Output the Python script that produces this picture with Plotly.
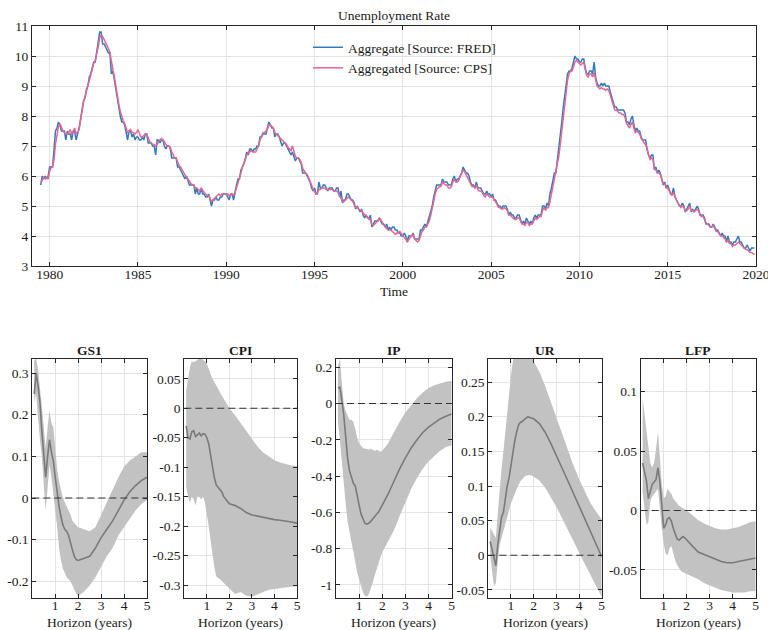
import pandas as pd
import plotly.graph_objects as go

# ---------------- Unemployment rate, monthly, Jul 1979 - Dec 2019 ----------------
start_month = "1979-07-01"

fred_rate = [
    5.7, 6.0, 5.9, 6.0, 5.9, 6.0,
    6.3, 6.3, 6.3, 6.9, 7.5, 7.6, 7.8, 7.7, 7.5, 7.5, 7.5, 7.2,
    7.5, 7.4, 7.4, 7.2, 7.5, 7.5, 7.2, 7.4, 7.6, 7.9, 8.3, 8.5,
    8.6, 8.9, 9.0, 9.3, 9.4, 9.6, 9.8, 9.8, 10.1, 10.4, 10.8, 10.8,
    10.4, 10.4, 10.3, 10.2, 10.1, 10.1, 9.4, 9.5, 9.2, 8.8, 8.5, 8.3,
    8.0, 7.8, 7.8, 7.7, 7.4, 7.2, 7.5, 7.5, 7.3, 7.4, 7.2, 7.3,
    7.3, 7.2, 7.2, 7.3, 7.2, 7.4, 7.4, 7.1, 7.1, 7.1, 7.0, 7.0,
    6.7, 7.2, 7.2, 7.1, 7.2, 7.2, 7.0, 6.9, 7.0, 7.0, 6.9, 6.6,
    6.6, 6.6, 6.6, 6.3, 6.3, 6.2, 6.1, 6.0, 5.9, 6.0, 5.8, 5.7,
    5.7, 5.7, 5.7, 5.4, 5.6, 5.4, 5.4, 5.6, 5.4, 5.4, 5.3, 5.3,
    5.4, 5.2, 5.0, 5.2, 5.2, 5.3, 5.2, 5.2, 5.3, 5.3, 5.4, 5.4,
    5.4, 5.3, 5.2, 5.4, 5.4, 5.2, 5.5, 5.7, 5.9, 5.9, 6.2, 6.3,
    6.4, 6.6, 6.8, 6.7, 6.9, 6.9, 6.8, 6.9, 6.9, 7.0, 7.0, 7.3,
    7.3, 7.4, 7.4, 7.4, 7.6, 7.8, 7.7, 7.6, 7.6, 7.3, 7.4, 7.4,
    7.3, 7.1, 7.0, 7.1, 7.1, 7.0, 6.9, 6.8, 6.7, 6.8, 6.6, 6.5,
    6.6, 6.6, 6.5, 6.4, 6.1, 6.1, 6.1, 6.0, 5.9, 5.8, 5.6, 5.5,
    5.6, 5.4, 5.4, 5.8, 5.6, 5.6, 5.7, 5.7, 5.6, 5.5, 5.6, 5.6,
    5.6, 5.5, 5.5, 5.6, 5.6, 5.3, 5.5, 5.1, 5.2, 5.2, 5.4, 5.4,
    5.3, 5.2, 5.2, 5.1, 4.9, 5.0, 4.9, 4.8, 4.9, 4.7, 4.6, 4.7,
    4.6, 4.6, 4.7, 4.3, 4.4, 4.5, 4.5, 4.5, 4.6, 4.5, 4.4, 4.4,
    4.3, 4.4, 4.2, 4.3, 4.2, 4.3, 4.3, 4.2, 4.2, 4.1, 4.1, 4.0,
    4.0, 4.1, 4.0, 3.8, 4.0, 4.0, 4.0, 4.1, 3.9, 3.9, 3.9, 3.9,
    4.2, 4.2, 4.3, 4.4, 4.3, 4.5, 4.6, 4.9, 5.0, 5.3, 5.5, 5.7,
    5.7, 5.7, 5.7, 5.9, 5.8, 5.8, 5.8, 5.7, 5.7, 5.7, 5.9, 6.0,
    5.8, 5.9, 5.9, 6.0, 6.1, 6.3, 6.2, 6.1, 6.1, 6.0, 5.8, 5.7,
    5.7, 5.6, 5.8, 5.6, 5.6, 5.6, 5.5, 5.4, 5.4, 5.5, 5.4, 5.4,
    5.3, 5.4, 5.2, 5.2, 5.1, 5.0, 5.0, 4.9, 5.0, 5.0, 5.0, 4.9,
    4.7, 4.8, 4.7, 4.7, 4.6, 4.6, 4.7, 4.7, 4.5, 4.4, 4.5, 4.4,
    4.6, 4.5, 4.4, 4.5, 4.4, 4.6, 4.7, 4.6, 4.7, 4.7, 4.7, 5.0,
    5.0, 4.9, 5.1, 5.0, 5.4, 5.6, 5.8, 6.1, 6.1, 6.5, 6.8, 7.3,
    7.8, 8.3, 8.7, 9.0, 9.4, 9.5, 9.5, 9.6, 9.8, 10.0, 9.9, 9.9,
    9.8, 9.8, 9.9, 9.9, 9.6, 9.4, 9.4, 9.5, 9.5, 9.4, 9.8, 9.3,
    9.1, 9.0, 9.0, 9.1, 9.0, 9.1, 9.0, 9.0, 9.0, 8.8, 8.6, 8.5,
    8.3, 8.3, 8.2, 8.2, 8.2, 8.2, 8.2, 8.1, 7.8, 7.8, 7.7, 7.9,
    8.0, 7.7, 7.5, 7.6, 7.5, 7.5, 7.3, 7.2, 7.2, 7.2, 6.9, 6.7,
    6.6, 6.7, 6.7, 6.2, 6.3, 6.1, 6.2, 6.1, 5.9, 5.7, 5.8, 5.6,
    5.7, 5.5, 5.4, 5.4, 5.6, 5.3, 5.2, 5.1, 5.0, 5.0, 5.1, 5.0,
    4.8, 4.9, 5.0, 5.1, 4.8, 4.9, 4.8, 4.9, 5.0, 4.9, 4.7, 4.7,
    4.7, 4.6, 4.4, 4.4, 4.4, 4.3, 4.3, 4.4, 4.3, 4.2, 4.2, 4.1,
    4.0, 4.1, 4.0, 4.0, 3.8, 4.0, 3.8, 3.8, 3.7, 3.8, 3.8, 3.9,
    4.0, 3.8, 3.8, 3.7, 3.6, 3.6, 3.7, 3.6, 3.5, 3.6, 3.6, 3.6,
]

cps_rate = [
    5.80, 5.85, 5.95, 5.90, 5.95, 5.90,
    6.15, 6.30, 6.30, 6.55, 7.05, 7.45, 7.65, 7.75, 7.60, 7.50, 7.45, 7.40,
    7.40, 7.45, 7.55, 7.40, 7.45, 7.60, 7.40, 7.45, 7.55, 7.80, 8.15, 8.45,
    8.65, 8.85, 9.05, 9.25, 9.40, 9.55, 9.75, 9.85, 10.05, 10.30, 10.60, 10.70,
    10.65, 10.55, 10.50, 10.40, 10.25, 10.10, 9.75, 9.55, 9.30, 8.95, 8.65, 8.40,
    8.15, 7.95, 7.85, 7.75, 7.60, 7.45, 7.50, 7.55, 7.45, 7.45, 7.40, 7.45,
    7.55, 7.40, 7.30, 7.30, 7.35, 7.40, 7.40, 7.25, 7.15, 7.10, 7.05, 7.05,
    7.00, 7.05, 7.15, 7.20, 7.25, 7.20, 7.15, 7.05, 7.00, 7.00, 6.95, 6.80,
    6.70, 6.60, 6.60, 6.45, 6.35, 6.30, 6.20, 6.10, 6.00, 5.95, 5.90, 5.80,
    5.75, 5.70, 5.70, 5.60, 5.60, 5.55, 5.50, 5.60, 5.50, 5.45, 5.40, 5.35,
    5.35, 5.25, 5.15, 5.20, 5.25, 5.30, 5.35, 5.40, 5.35, 5.40, 5.40, 5.40,
    5.40, 5.40, 5.35, 5.35, 5.40, 5.35, 5.45, 5.60, 5.80, 5.95, 6.10, 6.30,
    6.40, 6.55, 6.70, 6.75, 6.80, 6.85, 6.80, 6.80, 6.80, 6.90, 7.00, 7.20,
    7.35, 7.45, 7.45, 7.50, 7.55, 7.70, 7.70, 7.65, 7.60, 7.45, 7.40, 7.35,
    7.30, 7.25, 7.20, 7.15, 7.10, 7.05, 6.95, 6.90, 6.85, 7.00, 6.80, 6.65,
    6.60, 6.60, 6.55, 6.45, 6.25, 6.15, 6.10, 6.05, 5.95, 5.85, 5.70, 5.55,
    5.45, 5.40, 5.45, 5.55, 5.55, 5.60, 5.60, 5.60, 5.55, 5.55, 5.55, 5.55,
    5.55, 5.50, 5.50, 5.50, 5.45, 5.35, 5.30, 5.15, 5.15, 5.20, 5.25, 5.30,
    5.25, 5.20, 5.15, 5.05, 4.95, 4.95, 4.90, 4.85, 4.85, 4.75, 4.70, 4.70,
    4.60, 4.55, 4.55, 4.40, 4.35, 4.40, 4.45, 4.50, 4.60, 4.55, 4.45, 4.35,
    4.30, 4.25, 4.20, 4.20, 4.20, 4.15, 4.10, 4.05, 4.10, 4.10, 4.15, 4.05,
    4.00, 3.95, 3.90, 3.80, 3.90, 3.95, 4.00, 4.05, 3.90, 3.85, 3.80, 3.85,
    4.00, 4.15, 4.20, 4.30, 4.30, 4.40, 4.50, 4.70, 4.90, 5.15, 5.40, 5.55,
    5.60, 5.65, 5.65, 5.80, 5.75, 5.70, 5.70, 5.60, 5.60, 5.65, 5.80, 5.90,
    5.80, 5.80, 5.85, 5.95, 6.05, 6.20, 6.15, 6.05, 6.00, 5.90, 5.75, 5.65,
    5.65, 5.60, 5.70, 5.55, 5.50, 5.50, 5.45, 5.35, 5.30, 5.40, 5.35, 5.30,
    5.30, 5.30, 5.20, 5.15, 5.05, 4.95, 4.95, 4.90, 4.90, 4.95, 4.90, 4.85,
    4.70, 4.70, 4.65, 4.60, 4.55, 4.55, 4.60, 4.60, 4.50, 4.40, 4.40, 4.35,
    4.45, 4.45, 4.35, 4.40, 4.40, 4.50, 4.60, 4.55, 4.60, 4.65, 4.65, 4.85,
    4.95, 4.85, 4.95, 4.95, 5.15, 5.40, 5.65, 5.90, 6.05, 6.30, 6.65, 7.05,
    7.50, 8.05, 8.50, 8.85, 9.20, 9.40, 9.50, 9.50, 9.65, 9.80, 9.85, 9.80,
    9.75, 9.70, 9.75, 9.80, 9.55, 9.35, 9.30, 9.40, 9.40, 9.30, 9.45, 9.20,
    9.00, 8.95, 8.90, 8.95, 8.90, 8.90, 8.85, 8.90, 8.85, 8.70, 8.50, 8.40,
    8.20, 8.20, 8.15, 8.10, 8.10, 8.05, 8.05, 7.95, 7.75, 7.65, 7.60, 7.70,
    7.80, 7.60, 7.45, 7.50, 7.45, 7.40, 7.25, 7.15, 7.10, 7.05, 6.85, 6.65,
    6.55, 6.60, 6.55, 6.25, 6.20, 6.10, 6.10, 6.05, 5.90, 5.75, 5.75, 5.60,
    5.60, 5.50, 5.40, 5.35, 5.45, 5.30, 5.20, 5.10, 5.00, 4.95, 5.00, 4.95,
    4.85, 4.85, 4.90, 5.00, 4.85, 4.85, 4.80, 4.85, 4.90, 4.85, 4.70, 4.65,
    4.65, 4.55, 4.45, 4.40, 4.35, 4.30, 4.30, 4.35, 4.25, 4.15, 4.15, 4.05,
    4.00, 4.00, 3.95, 3.90, 3.80, 3.85, 3.75, 3.75, 3.65, 3.70, 3.70, 3.75,
    3.80, 3.75, 3.70, 3.65, 3.60, 3.55, 3.55, 3.50, 3.45, 3.45, 3.40, 3.38,
]

months = pd.date_range(start_month, periods=len(fred_rate), freq="MS")

# ---------------- Impulse responses (horizon in months) ----------------
horizon_months = list(range(1, 25)) + list(range(27, 61, 3))
horizon_years = [m / 12 for m in horizon_months]

gs1_mid = [0.25, 0.30, 0.27, 0.23, 0.16, 0.10, 0.05, 0.10, 0.14, 0.11, 0.09, 0.05,
           0.01, -0.02, -0.045, -0.065, -0.075, -0.08, -0.09, -0.11, -0.125, -0.14, -0.148, -0.15,
           -0.145, -0.14, -0.12, -0.095, -0.075, -0.055, -0.03, -0.005, 0.015, 0.03, 0.042, 0.05]
gs1_lo = [0.23, 0.25, 0.20, 0.14, 0.10, 0.03, -0.03, 0.03, 0.08, 0.05, 0.02, -0.03,
          -0.07, -0.12, -0.15, -0.17, -0.18, -0.19, -0.195, -0.20, -0.21, -0.22, -0.23, -0.235,
          -0.225, -0.21, -0.19, -0.165, -0.14, -0.12, -0.09, -0.07, -0.05, -0.03, -0.015, -0.005]
gs1_hi = [0.33, 0.335, 0.31, 0.27, 0.22, 0.17, 0.12, 0.17, 0.21, 0.18, 0.17, 0.12,
          0.07, 0.04, 0.02, 0.00, -0.01, -0.02, -0.03, -0.04, -0.055, -0.06, -0.065, -0.07,
          -0.075, -0.08, -0.07, -0.04, -0.01, 0.02, 0.05, 0.075, 0.09, 0.10, 0.11, 0.11]

cpi_mid = [-0.030, -0.050, -0.052, -0.040, -0.038, -0.048, -0.045, -0.042, -0.047, -0.043, -0.044, -0.050,
           -0.060, -0.080, -0.100, -0.118, -0.130, -0.134, -0.137, -0.142, -0.150, -0.155, -0.158, -0.162,
           -0.165, -0.170, -0.177, -0.181, -0.183, -0.186, -0.188, -0.189, -0.190, -0.191, -0.193, -0.195]
cpi_lo = [-0.133, -0.150, -0.160, -0.150, -0.155, -0.165, -0.150, -0.150, -0.155, -0.150, -0.160, -0.180,
          -0.200, -0.225, -0.250, -0.270, -0.285, -0.288, -0.290, -0.292, -0.296, -0.300, -0.302, -0.305,
          -0.315, -0.312, -0.318, -0.320, -0.316, -0.312, -0.308, -0.306, -0.305, -0.304, -0.303, -0.302]
cpi_hi = [0.030, 0.050, 0.070, 0.080, 0.078, 0.080, 0.082, 0.085, 0.085, 0.082, 0.080, 0.075,
          0.068, 0.058, 0.050, 0.045, 0.040, 0.033, 0.027, 0.022, 0.015, 0.010, 0.005, 0.000,
          -0.012, -0.025, -0.040, -0.053, -0.065, -0.075, -0.082, -0.088, -0.092, -0.095, -0.097, -0.098]

ip_mid = [0.085, 0.090, 0.020, -0.060, -0.180, -0.300, -0.370, -0.410, -0.440, -0.455, -0.500, -0.560,
          -0.610, -0.640, -0.660, -0.665, -0.660, -0.650, -0.635, -0.620, -0.610, -0.600, -0.580, -0.560,
          -0.500, -0.430, -0.360, -0.300, -0.245, -0.200, -0.160, -0.130, -0.105, -0.085, -0.070, -0.058]
ip_lo = [-0.10, -0.20, -0.30, -0.42, -0.55, -0.65, -0.70, -0.76, -0.82, -0.87, -0.93, -0.97,
         -1.01, -1.04, -1.06, -1.065, -1.05, -1.02, -0.99, -0.95, -0.92, -0.88, -0.85, -0.82,
         -0.76, -0.70, -0.62, -0.54, -0.47, -0.41, -0.36, -0.32, -0.29, -0.26, -0.24, -0.23]
ip_hi = [0.20, 0.25, 0.12, 0.00, -0.04, -0.07, -0.09, -0.09, -0.10, -0.14, -0.19, -0.22,
         -0.235, -0.245, -0.25, -0.25, -0.255, -0.25, -0.255, -0.26, -0.255, -0.26, -0.265, -0.26,
         -0.22, -0.16, -0.10, -0.05, -0.01, 0.03, 0.06, 0.085, 0.10, 0.11, 0.12, 0.125]

ur_mid = [0.020, 0.008, -0.005, -0.015, 0.015, 0.035, 0.055, 0.062, 0.085, 0.100, 0.112, 0.130,
          0.150, 0.165, 0.178, 0.188, 0.192, 0.193, 0.196, 0.198, 0.200, 0.199, 0.198, 0.197,
          0.190, 0.178, 0.162, 0.145, 0.126, 0.108, 0.090, 0.070, 0.052, 0.035, 0.017, -0.002]
ur_lo = [0.000, -0.025, -0.045, -0.040, -0.010, 0.015, 0.025, 0.035, 0.045, 0.055, 0.065, 0.075,
         0.082, 0.090, 0.096, 0.102, 0.107, 0.110, 0.113, 0.115, 0.116, 0.116, 0.115, 0.114,
         0.108, 0.098, 0.085, 0.070, 0.054, 0.038, 0.021, 0.005, -0.012, -0.028, -0.045, -0.060]
ur_hi = [0.040, 0.035, 0.030, 0.025, 0.060, 0.100, 0.125, 0.150, 0.180, 0.210, 0.235, 0.260,
         0.280, 0.295, 0.300, 0.305, 0.305, 0.300, 0.298, 0.295, 0.293, 0.290, 0.285, 0.280,
         0.265, 0.245, 0.222, 0.198, 0.175, 0.152, 0.130, 0.110, 0.092, 0.076, 0.063, 0.052]

lfp_mid = [0.040, 0.033, 0.025, 0.010, 0.017, 0.022, 0.024, 0.026, 0.036, 0.024, 0.005, -0.015,
           -0.012, -0.007, -0.006, -0.009, -0.015, -0.020, -0.024, -0.025, -0.023, -0.022, -0.023, -0.025,
           -0.030, -0.035, -0.037, -0.039, -0.041, -0.043, -0.044, -0.044, -0.043, -0.042, -0.041, -0.040]
lfp_lo = [0.015, 0.000, -0.012, -0.010, 0.008, 0.012, 0.014, 0.016, 0.018, 0.005, -0.015, -0.028,
          -0.036, -0.038, -0.032, -0.030, -0.036, -0.042, -0.046, -0.049, -0.051, -0.052, -0.053, -0.054,
          -0.056, -0.058, -0.061, -0.063, -0.065, -0.067, -0.068, -0.069, -0.069, -0.069, -0.068, -0.068]
lfp_hi = [0.095, 0.082, 0.065, 0.055, 0.040, 0.036, 0.040, 0.052, 0.066, 0.045, 0.022, 0.010,
          0.012, 0.018, 0.016, 0.014, 0.010, 0.008, 0.005, 0.004, 0.003, 0.002, 0.001, 0.000,
          -0.004, -0.008, -0.011, -0.013, -0.015, -0.016, -0.016, -0.015, -0.014, -0.012, -0.010, -0.009]

panel_names = ["GS1", "CPI", "IP", "UR", "LFP"]
panel_mid = [gs1_mid, cpi_mid, ip_mid, ur_mid, lfp_mid]
panel_lo = [gs1_lo, cpi_lo, ip_lo, ur_lo, lfp_lo]
panel_hi = [gs1_hi, cpi_hi, ip_hi, ur_hi, lfp_hi]
panel_yrange = [[-0.24, 0.335], [-0.322, 0.0845], [-1.072, 0.248], [-0.0616, 0.284], [-0.0737, 0.128]]
panel_yticks = [
    ["-0.2", "-0.1", "0", "0.1", "0.2", "0.3"],
    ["-0.3", "-0.25", "-0.2", "-0.15", "-0.1", "-0.05", "0", "0.05"],
    ["-1", "-0.8", "-0.6", "-0.4", "-0.2", "0", "0.2"],
    ["-0.05", "0", "0.05", "0.1", "0.15", "0.2", "0.25"],
    ["-0.05", "0", "0.05", "0.1"],
]
horizon_ticks = [1, 2, 3, 4, 5]
year_ticks = [1980, 1985, 1990, 1995, 2000, 2005, 2010, 2015, 2020]

# ---------------- styling ----------------
W, H = 768, 630
FONT = "Liberation Serif"
TXT = "#1a1a1a"
AXC = "#262626"
GRID = "#e3e3e3"
BLUE = "#3479bd"
PINK = "#e5668f"
BAND = "#c2c2c2"
MIDLINE = "#7a7a7a"
FS = 13.5


def px_x(p):
    return p / W


def px_y(p):
    return 1 - p / H


def axis_style(**kw):
    d = dict(showline=True, linecolor=AXC, linewidth=1, mirror="ticks",
             ticks="inside", ticklen=4, tickcolor=AXC, showgrid=True,
             gridcolor=GRID, gridwidth=1, zeroline=False, automargin=False,
             ticklabeloverflow="allow",
             tickfont=dict(family=FONT, size=FS, color=TXT))
    d.update(kw)
    return d


def label(text, x, y, bold=False):
    return dict(text=f"<b>{text}</b>" if bold else text, x=px_x(x), y=px_y(y),
                xref="paper", yref="paper", xanchor="center", yanchor="middle",
                showarrow=False, font=dict(family=FONT, size=FS, color=TXT))


fig = go.Figure()

# Top panel: unemployment rate
fig.add_trace(go.Scatter(x=months, y=fred_rate, mode="lines", name="Aggregate [Source: FRED]",
                         line=dict(color=BLUE, width=1.5), xaxis="x", yaxis="y"))
fig.add_trace(go.Scatter(x=months, y=cps_rate, mode="lines", name="Aggregated [Source: CPS]",
                         line=dict(color=PINK, width=1.5), xaxis="x", yaxis="y"))

layout = dict(
    template="none",
    width=W, height=H,
    margin=dict(l=0, r=0, t=0, b=0, autoexpand=False),
    paper_bgcolor="white", plot_bgcolor="white",
    font=dict(family=FONT, size=FS, color=TXT),
    showlegend=True,
    legend=dict(x=px_x(308), y=px_y(32), xanchor="left", yanchor="top",
                bgcolor="rgba(0,0,0,0)", borderwidth=0,
                font=dict(family=FONT, size=FS, color=TXT),
                tracegroupgap=0, itemwidth=30),
    xaxis=axis_style(domain=[px_x(32), px_x(756)], anchor="y", type="date",
                     range=["1979-01-01", "2020-01-01 12:00"],
                     tickvals=[f"{y}-01-01" for y in year_ticks],
                     ticktext=[str(y) for y in year_ticks], ticklabelstandoff=-4),
    yaxis=axis_style(domain=[px_y(266), px_y(26)], anchor="x", range=[3, 11],
                     tickvals=list(range(3, 12)), ticktext=[str(v) for v in range(3, 12)]),
)

annotations = [label("Unemployment Rate", 394, 15), label("Time", 394, 291)]
shapes = []

panel_x = [(32.3, 147), (184.3, 297), (336, 451.7), (488.3, 601.7), (640.7, 755.7)]
top_px, bot_px = 358.5, 598

for i, name in enumerate(panel_names):
    k = i + 2
    xa, ya = f"x{k}", f"y{k}"
    # confidence band
    fig.add_trace(go.Scatter(
        x=horizon_years + horizon_years[::-1],
        y=panel_hi[i] + panel_lo[i][::-1],
        fill="toself", fillcolor=BAND, line=dict(width=0, color=BAND),
        mode="lines", hoverinfo="skip", showlegend=False, xaxis=xa, yaxis=ya))
    # median response
    fig.add_trace(go.Scatter(
        x=horizon_years, y=panel_mid[i], mode="lines",
        line=dict(color=MIDLINE, width=1.6), showlegend=False, xaxis=xa, yaxis=ya))

    tick_vals = [float(t) for t in panel_yticks[i]]
    x0, x1 = panel_x[i]
    layout[f"xaxis{k}"] = axis_style(domain=[px_x(x0), px_x(x1)], anchor=ya, range=[0, 5],
                                     tickvals=horizon_ticks,
                                     ticktext=[str(t) for t in horizon_ticks],
                                     ticklabelstandoff=-5)
    layout[f"yaxis{k}"] = axis_style(domain=[px_y(bot_px), px_y(top_px)], anchor=xa,
                                     range=panel_yrange[i], tickvals=tick_vals,
                                     ticktext=panel_yticks[i])
    # zero reference line
    shapes.append(dict(type="line", xref=f"{xa} domain", yref=ya, x0=0, x1=1, y0=0, y1=0,
                       line=dict(color="#333333", width=1.1, dash="7px,4px"), layer="above"))
    cx = (x0 + x1) / 2
    annotations.append(label(name, cx, 350, bold=True))
    annotations.append(label("Horizon (years)", cx, 622))

layout["annotations"] = annotations
layout["shapes"] = shapes
fig.update_layout(**layout)

fig.write_html("out.html")
